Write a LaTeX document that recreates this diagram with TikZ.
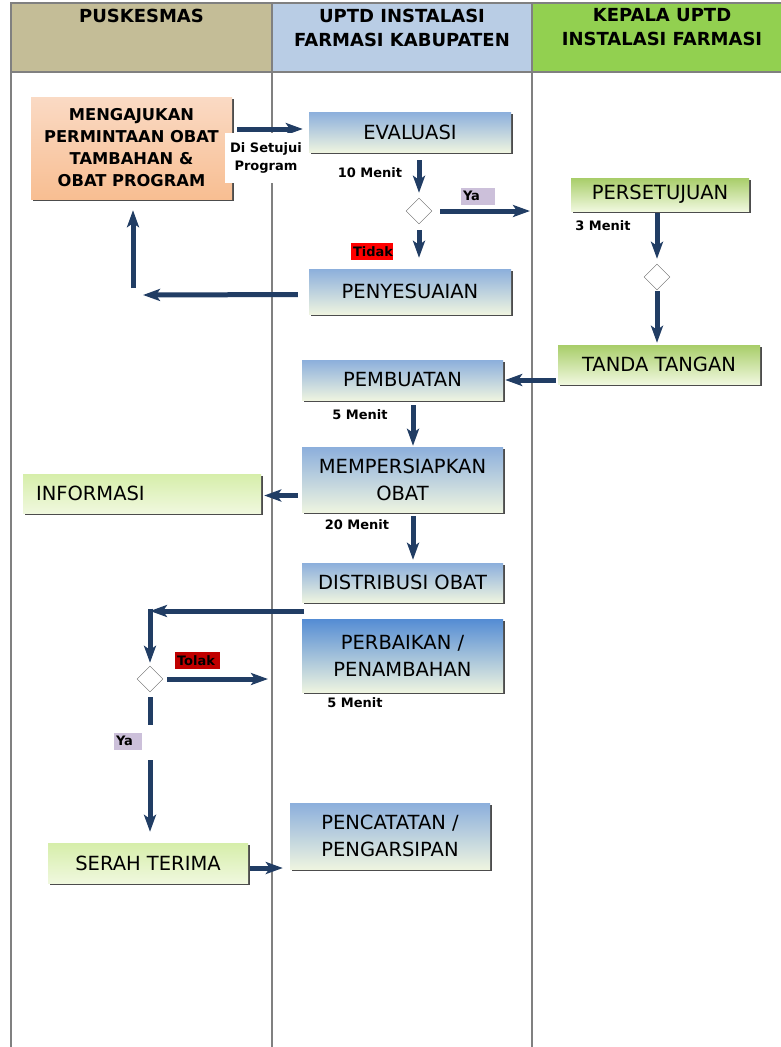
\documentclass[tikz,border=0pt]{standalone}
\usepackage{fontspec}
\setmainfont{DejaVu Sans}
\usetikzlibrary{arrows.meta,shapes.geometric,shadows}
\definecolor{navy}{RGB}{33,61,100}
\definecolor{lanegray}{RGB}{128,128,128}
\definecolor{khaki}{RGB}{196,189,151}
\definecolor{paleblue}{RGB}{185,205,229}
\definecolor{leaf}{RGB}{146,208,80}
\definecolor{skytop}{RGB}{140,175,220}
\definecolor{deepsky}{RGB}{84,140,212}
\definecolor{cream}{RGB}{238,244,224}
\definecolor{grasstop}{RGB}{168,205,105}
\definecolor{grasslow}{RGB}{240,248,222}
\definecolor{limetop}{RGB}{214,238,170}
\definecolor{peachtop}{RGB}{250,218,196}
\definecolor{peachlow}{RGB}{248,190,146}
\definecolor{lilac}{RGB}{204,192,218}
\definecolor{darkred}{RGB}{192,0,0}
\begin{document}
\begin{tikzpicture}[x=1pt,y=-1pt,
		lane/.style={draw=lanegray,line width=1.2pt},
		lanetext/.style={anchor=north,align=center,inner sep=0pt,font=\fontsize{18}{24}\selectfont\bfseries},
		proc/.style={inner sep=0pt,align=center,font=\fontsize{19.5}{27}\selectfont,
			drop shadow={shadow xshift=2pt,shadow yshift=-2pt,opacity=1,fill=black!70}},
		bluebox/.style={proc,top color=skytop,bottom color=cream},
		greenbox/.style={proc,top color=grasstop,bottom color=grasslow},
		choice/.style={diamond,draw=black!60,fill=white,minimum width=26pt,minimum height=26pt,inner sep=0pt},
		note/.style={font=\fontsize{13}{18}\selectfont\bfseries,inner sep=1pt},
		tag/.style={note,inner xsep=2pt,inner ysep=0pt,minimum height=17pt,text width=#1,align=left},
		flow/.style={draw=navy,line width=5pt,-{Stealth[length=17pt,width=12pt,inset=4pt]}}]
	\useasboundingbox (0,0) rectangle (781,1047);
	\fill[white] (0,0) rectangle (781,1047);
	
	\filldraw[lane,fill=khaki] (11,3) rectangle (272,72);
	\filldraw[lane,fill=paleblue] (272,3) rectangle (532,72);
	\filldraw[lane,fill=leaf] (532,3) rectangle (790,72);
	\draw[lane] (11,72)--(11,1050);
	\draw[lane] (272,72)--(272,1050);
	\draw[lane] (532,72)--(532,1050);
	\node[lanetext] (tpus) at (141.5,8.5) {PUSKESMAS};
	\node[lanetext] (tfar) at (402,8.5) {UPTD INSTALASI\\FARMASI KABUPATEN};
	\node[lanetext] (tkep) at (662,8.5) {KEPALA UPTD\\INSTALASI FARMASI};
	
	\node[proc,top color=peachtop,bottom color=peachlow,minimum width=201pt,minimum height=102pt,
		font=\fontsize{16.3}{22}\selectfont\bfseries] (ajukan) at (131.5,148)
		{MENGAJUKAN\\PERMINTAAN OBAT\\TAMBAHAN \&\\OBAT PROGRAM};
	\node[bluebox,minimum width=202pt,minimum height=40pt] (evaluasi) at (410,132) {EVALUASI};
	\node[choice] (d1) at (419,211) {};
	\node[bluebox,minimum width=202pt,minimum height=45pt] (sesuai) at (410,291.5) {PENYESUAIAN};
	\node[greenbox,minimum width=178pt,minimum height=33pt] (setuju) at (660,194.5) {PERSETUJUAN};
	\node[choice] (d2) at (657,277) {};
	\node[greenbox,minimum width=202pt,minimum height=39pt] (tanda) at (659,364.5) {TANDA TANGAN};
	\node[bluebox,minimum width=201pt,minimum height=40pt] (buat) at (402.5,380) {PEMBUATAN};
	\node[bluebox,minimum width=201pt,minimum height=65pt] (siapkan) at (402.5,479.5) {MEMPERSIAPKAN\\OBAT};
	\node[proc,top color=limetop,bottom color=grasslow,minimum width=238pt,minimum height=39pt,
		inner xsep=13pt,text width=212pt,align=left] (info) at (142,493.5) {INFORMASI};
	\node[bluebox,minimum width=201pt,minimum height=39pt] (distribusi) at (402.5,582.5) {DISTRIBUSI OBAT};
	\node[bluebox,top color=deepsky,minimum width=201pt,minimum height=73pt] (perbaikan) at (402.5,655.5) {PERBAIKAN /\\PENAMBAHAN};
	\node[choice] (d3) at (150,679) {};
	\node[proc,top color=limetop,bottom color=grasslow,minimum width=200pt,minimum height=40pt] (serah) at (148,863) {SERAH TERIMA};
	\node[bluebox,minimum width=200pt,minimum height=66pt] (catat) at (390,836) {PENCATATAN /\\PENGARSIPAN};
	
	\coordinate (ya1end) at (530,211);
	\coordinate (belok) at (143,295);
	\coordinate (naik) at (133,288);
	\coordinate (lepas) at (304,611);
	\coordinate (pojok) at (150,611);
	\coordinate (tolakend) at (268,679);
	
	\draw[flow,shorten <=5pt,shorten >=6pt] ([yshift=3pt]ajukan.east |- evaluasi.west) -- ([yshift=3pt]evaluasi.west);
	\draw[flow,shorten <=8pt,shorten >=5pt] (evaluasi.south -| d1) -- (d1.north);
	\draw[flow,shorten <=8pt] (d1.east) -- (ya1end);
	\draw[flow,shorten <=6pt,shorten >=11pt] (d1.south) -- (sesuai.north -| d1);
	\draw[flow,shorten <=11pt] ([yshift=-3pt]sesuai.west) -- (belok);
	\draw[flow,shorten >=11pt] (naik) -- (naik |- ajukan.south);
	\draw[flow,shorten <=2pt,shorten >=5pt] (setuju.south -| d2) -- (d2.north);
	\draw[flow,shorten <=1pt,shorten >=2pt] (d2.south) -- (tanda.north -| d2);
	\draw[flow,shorten <=2pt,shorten >=2pt] (tanda.west |- buat.east) -- (buat.east);
	\draw[flow,shorten <=5pt,shorten >=1pt] ([xshift=10.5pt]buat.south) -- ([xshift=10.5pt]siapkan.north);
	\draw[flow,shorten <=4pt,shorten >=3pt] ([yshift=-16pt]siapkan.west) -- ([yshift=-16pt]siapkan.west -| info.east);
	\draw[flow,shorten <=4pt,shorten >=3pt] ([xshift=10.5pt]siapkan.south) -- ([xshift=10.5pt]distribusi.north);
	\draw[flow] (lepas) -- (pojok);
	\draw[flow,shorten <=-2.5pt,shorten >=3pt] (pojok) -- (d3.north);
	\draw[flow,shorten <=4pt] (d3.east) -- (tolakend);
	\draw[flow,shorten <=5pt,shorten >=11pt] (d3.south) -- (serah.north -| d3);
	\draw[flow,shorten <=2pt,shorten >=7pt] ([yshift=-5pt]serah.east) -- ([yshift=-5pt]serah.east -| catat.west);
	
	\node[note,fill=white,minimum width=82pt,minimum height=50pt,align=center] (setujui) at (266,158) {Di Setujui\\Program};
	\node[note] (t10) at (370,173) {10 Menit};
	\node[tag=30pt,fill=lilac] (ya1) at (478,196) {Ya};
	\node[tag=38pt,fill=red] (tidak) at (372,251.5) {Tidak};
	\node[note] (t3) at (603,226) {3 Menit};
	\node[note] (t5a) at (360,415) {5 Menit};
	\node[note] (t20) at (357,525) {20 Menit};
	\node[tag=41pt,fill=darkred] (tolak) at (197.5,660.5) {Tolak};
	\node[note] (t5b) at (355,703) {5 Menit};
	\node[fill=white,minimum width=40pt,minimum height=35pt,inner sep=0pt] (celah) at (134,742.5) {};
	\node[tag=24pt,fill=lilac] (ya2) at (128,741) {Ya};
\end{tikzpicture}
\end{document}
